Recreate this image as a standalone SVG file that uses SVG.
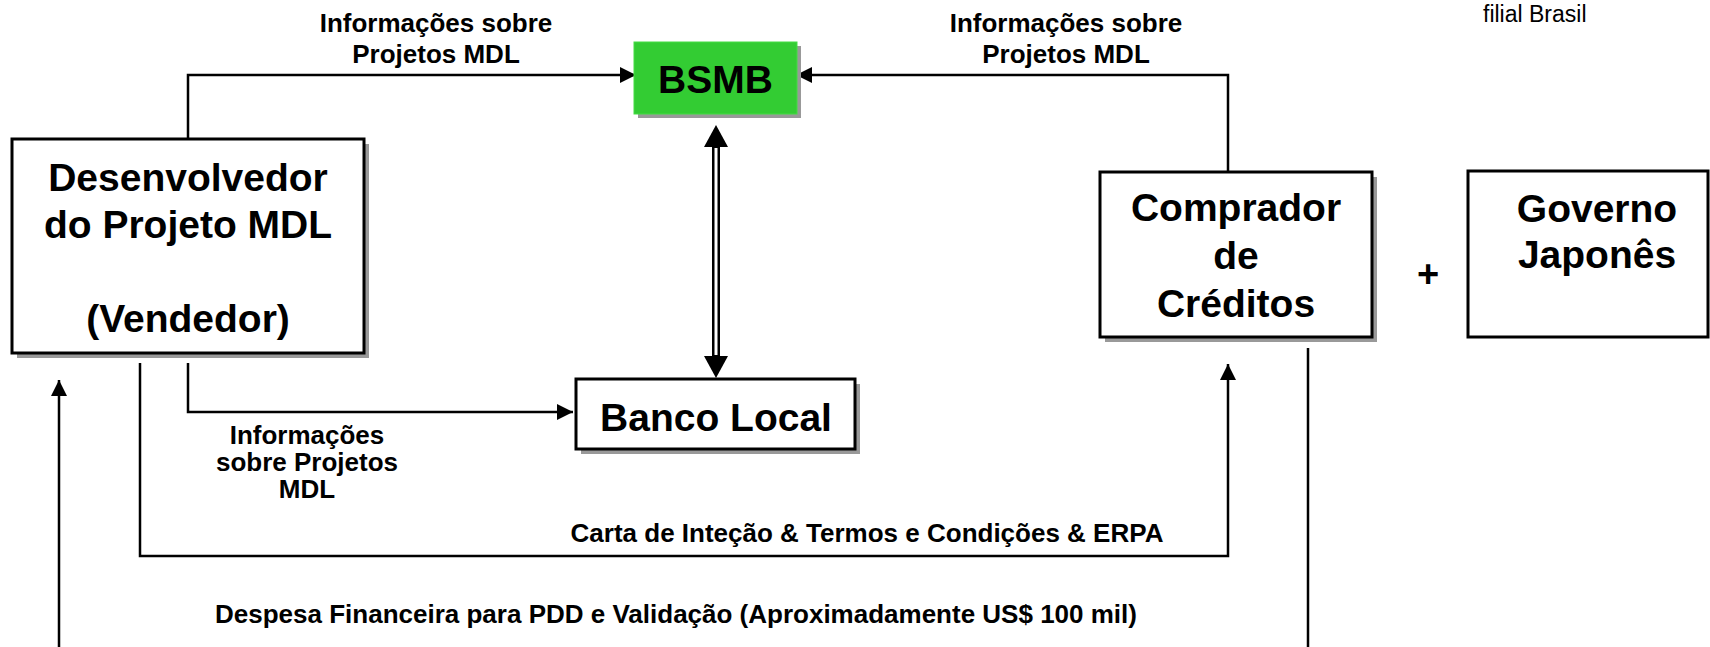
<svg xmlns="http://www.w3.org/2000/svg" width="1710" height="647" viewBox="0 0 1710 647">
<defs>
<style>
.box{fill:#ffffff;stroke:#000000;stroke-width:3}
.shadow{fill:#999999}
.big{font-family:"Liberation Sans",Arial,sans-serif;font-weight:bold;font-size:39px;fill:#000000;text-anchor:middle}
.lbl{font-family:"Liberation Sans",Arial,sans-serif;font-weight:bold;font-size:26px;fill:#000000;text-anchor:middle}
.conn{fill:none;stroke:#000000;stroke-width:2.5}
</style>
<marker id="arr" markerUnits="userSpaceOnUse" markerWidth="18" markerHeight="18" refX="16" refY="8" orient="auto">
<path d="M0,0 L16,8 L0,16 Z" fill="#000000"/>
</marker>
<marker id="darr" markerUnits="userSpaceOnUse" markerWidth="24" markerHeight="26" refX="1" refY="12" orient="auto-start-reverse">
<path d="M0,0 L22,12 L0,24 Z" fill="#000000"/>
</marker>
</defs>
<rect width="1710" height="647" fill="#ffffff"/>

<g id="connectors">
<path class="conn" d="M188,139 V75 H636" marker-end="url(#arr)"/>
<path class="conn" d="M1228,172 V75 H796" marker-end="url(#arr)"/>
<path d="M716,146 V357" fill="none" stroke="#000000" stroke-width="8" marker-start="url(#darr)" marker-end="url(#darr)"/>
<path d="M716,148 V355" fill="none" stroke="#ffffff" stroke-width="3"/>
<path class="conn" d="M188,363 V412 H573" marker-end="url(#arr)"/>
<path class="conn" d="M140,363 V556 H1228 V364" marker-end="url(#arr)"/>
<path class="conn" d="M1308,348 V647"/>
<path class="conn" d="M59,647 V380" marker-end="url(#arr)"/>
<text class="lbl" x="436" y="32">Informações sobre</text>
<text class="lbl" x="436" y="63">Projetos MDL</text>
<text class="lbl" x="1066" y="32">Informações sobre</text>
<text class="lbl" x="1066" y="63">Projetos MDL</text>
<text class="lbl" x="307" y="444">Informações</text>
<text class="lbl" x="307" y="471">sobre Projetos</text>
<text class="lbl" x="307" y="498">MDL</text>
<text class="lbl" x="867" y="542">Carta de Inteção &amp; Termos e Condições &amp; ERPA</text>
<text class="lbl" x="676" y="623">Despesa Financeira para PDD e Validação (Aproximadamente US$ 100 mil)</text>
</g>

<g id="desenvolvedor">
<rect class="shadow" x="17" y="144" width="352" height="214"/>
<rect class="box" x="12" y="139" width="352" height="214"/>
<text class="big" x="188" y="191">Desenvolvedor</text>
<text class="big" x="188" y="238">do Projeto MDL</text>
<text class="big" x="188" y="332">(Vendedor)</text>
</g>

<g id="bsmb">
<rect class="shadow" x="638" y="46" width="163" height="72"/>
<rect x="634" y="42" width="163" height="72" fill="#33cc33" stroke="#44dd44" stroke-width="1"/>
<text class="big" x="715.5" y="93">BSMB</text>
</g>

<g id="banco-local">
<rect class="shadow" x="581" y="384" width="279" height="70"/>
<rect class="box" x="576" y="379" width="279" height="70"/>
<text class="big" x="716" y="431">Banco Local</text>
</g>

<g id="comprador">
<rect class="shadow" x="1105" y="177" width="272" height="165"/>
<rect class="box" x="1100" y="172" width="272" height="165"/>
<text class="big" x="1236" y="221">Comprador</text>
<text class="big" x="1236" y="269">de</text>
<text class="big" x="1236" y="317">Créditos</text>
</g>

<g id="plus">
<text class="big" x="1428" y="287" style="font-size:38px">+</text>
</g>

<g id="governo">
<rect class="box" x="1468" y="171" width="240" height="166"/>
<text class="big" x="1597" y="222">Governo</text>
<text class="big" x="1597" y="268">Japonês</text>
</g>

<g id="filial">
<text x="1483" y="22" style="font-family:'Liberation Sans',Arial,sans-serif;font-size:23px;fill:#000000">filial Brasil</text>
</g>
</svg>
